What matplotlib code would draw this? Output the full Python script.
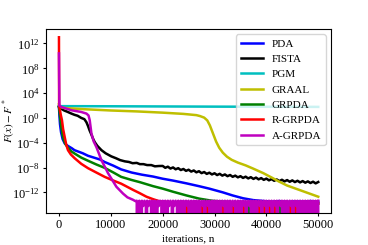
import numpy as np
import matplotlib.pyplot as plt
from matplotlib.ticker import NullLocator

plt.rcParams['font.family'] = 'serif'
plt.rcParams['font.serif'] = ['Liberation Serif', 'DejaVu Serif']
plt.rcParams['mathtext.fontset'] = 'stix'
plt.rcParams['path.simplify'] = False

# values as log10(F(x) - F*)
pda_it = [0, 80, 200, 400, 700, 1100, 1700, 2500, 3000, 4600, 5600, 7900, 8800,
          10500, 12000, 14000, 16000, 18150, 20000, 22000, 24600, 27000, 29000,
          31600, 33500, 35500, 37500, 39500, 41000, 42500, 44000, 45500, 47000,
          48500, 50000]
pda_exp = [1.8, 0.5, -1.0, -2.3, -3.4, -4.1, -4.5, -4.9, -5.2, -5.7, -6.1, -6.7, -7.1,
           -7.7, -8.3, -8.8, -9.15, -9.45, -9.8, -10.1, -10.55, -11.0, -11.4,
           -12.0, -12.5, -12.95, -13.25, -13.4, -13.5, -13.4, -13.55, -13.45, -13.5,
           -13.4, -13.5]

fista_it = [0, 400, 1000, 1600, 2400, 3000, 3600, 4300, 4900, 5300, 5600, 5900, 6260,
            6600, 6900, 7400, 8200, 9000, 10100, 11000, 11800, 12700, 13500, 14200,
            15000, 15600, 16300, 17000, 17800, 18500, 19300,
            20000, 20500, 21000, 21500, 22000, 22500, 23000, 23500, 24000, 24500,
            25000, 25500, 26000, 26500, 27000, 27500, 28000, 28500, 29000, 29500,
            30000, 30500, 31000, 31500, 32000, 32500, 33000, 33500, 34000, 34500,
            35000, 35500, 36000, 36500, 37000, 37500, 38000, 38500, 39000, 39500,
            40000, 40500, 41000, 41500, 42000, 42500, 43000, 43500, 44000, 44500,
            45000, 45500, 46000, 46500, 47000, 47500, 48000, 48500, 49000, 49500,
            50000]
fista_exp = [1.8, 1.5, 1.2, 1.0, 0.7, 0.5, 0.35, 0.0, -0.2, -0.7, -1.3, -2.0, -2.7,
             -3.4, -3.9, -4.5, -5.2, -5.7, -6.2, -6.5, -6.8, -7.0, -7.1, -7.3,
             -7.25, -7.45, -7.45, -7.6, -7.6, -7.8, -7.75,
             -7.74, -8.04, -7.86, -8.16, -7.98, -8.28, -8.10, -8.40, -8.23, -8.53,
             -8.35, -8.65, -8.47, -8.77, -8.59, -8.90, -8.72, -9.02, -8.83, -9.11,
             -8.92, -9.21, -9.01, -9.30, -9.11, -9.39, -9.20, -9.49, -9.30, -9.58,
             -9.39, -9.67, -9.47, -9.75, -9.55, -9.83, -9.62, -9.90, -9.70, -9.98,
             -9.78, -10.06, -9.86, -10.13, -9.92, -10.18, -9.97, -10.23, -10.02, -10.29,
             -10.07, -10.34, -10.13, -10.39, -10.18, -10.44, -10.23, -10.49, -10.28, -10.55,
             -10.33]

pgm_it = [0, 10000, 20000, 30000, 40000, 50000]
pgm_exp = [1.9, 1.88, 1.85, 1.82, 1.8, 1.78]

graal_it = [0, 100, 1000, 5000, 10000, 15000, 20000, 24000, 26500, 27200, 28000,
            28600, 29100, 29700, 30300, 30900, 31600, 32400, 33300, 34500, 36000,
            37400, 39400, 41000, 42300, 44000, 47000, 50000]
graal_exp = [2.2, 1.8, 1.6, 1.4, 1.2, 1.05, 0.85, 0.65, 0.45, 0.3, 0.05,
             -0.4, -1.2, -2.5, -3.8, -4.8, -5.6, -6.25, -6.75, -7.2, -7.65,
             -8.15, -8.9, -9.6, -10.2, -10.9, -11.8, -12.7]

grpda_it = [0, 100, 300, 460, 700, 960, 1300, 1740, 2400, 3030, 4300, 5600, 7200,
            8820, 10500, 12000, 14000, 15580, 18150, 20000, 22000, 24600, 27000, 29500]
grpda_exp = [1.8, 1.0, -0.5, -1.5, -2.8, -3.6, -4.3, -4.8, -5.4, -5.75, -6.4, -6.9, -7.5,
             -8.05, -8.8, -9.5, -10.0, -10.35, -11.0, -11.4, -11.9, -12.5, -13.0, -13.35]

rgrpda_it = [0, 30, 135, 350, 580, 800, 1100, 1400, 1740, 2300, 3030, 4300, 5600,
             7200, 8820, 10500, 12000, 14290, 15500, 16870, 18150, 19440]
rgrpda_exp = [13.0, 1.9, 1.5, 0.5, -0.37, -1.8, -3.05, -4.3, -5.2, -5.9, -6.5, -7.4, -8.1,
              -8.8, -9.5, -10.1, -10.6, -11.6, -12.1, -12.7, -13.1, -13.45]

agrpda_it = [0, 80, 500, 2400, 4300, 5300, 5700, 5930, 6260, 6700, 7220, 8190, 9460,
             11080, 12360, 13200, 14290, 14700]
agrpda_exp = [10.4, 2.0, 1.75, 1.24, 0.96, 0.7, 0.4, -0.37, -2.5, -3.8, -4.7, -6.8, -8.9,
              -11.1, -12.2, -12.8, -13.2, -13.4]

# machine precision floor: values jump between levels and exact zeros
FLOOR_HI, FLOOR_MID, FLOOR_LO = -13.35, -13.8, -14.2
floor_start, floor_step = 15000, 125
# A-GRPDA floor, one letter per 125 iterations (8 per 1000):
# h/m/l = level, 0 = exactly zero
agrpda_floor = "".join([
    "h0l0h0l0", "hmlmhml0", "hmlmhml0", "h0l0h0l0", "hmlmhml0",   # 15k-19k
    "h0l0h0l0", "hmlmhml0", "hmlmhml0", "h0l0h0l0", "h0lmhmlm",   # 20k-24k
    "h0l0h0l0", "h0l0h0l0", "h0lmhmlm", "h0lmhmlm", "h0l0h0l0",   # 25k-29k
    "h0l0h0l0", "h0lmhmlm", "h0l0h0l0", "h0lmhmlm", "h0l0h0l0",   # 30k-34k
    "h0lmhmlm", "h0lmhmlm", "h0l0h0l0", "h0lmhmlm", "h0lmhmlm",   # 35k-39k
    "h0lmhmlm", "h0lmhmlm", "h0lmhmlm", "h0l0h0l0", "h0lmhmlm",   # 40k-44k
    "h0lmhmlm", "h0l0h0l0", "h0l0h0l0", "h0l0h0l0", "h0l0h0l0",   # 45k-49k
    "h"])
# iterations where the other methods hit exactly zero
rgrpda_zeros = [24625, 27625, 28625, 31625, 33625, 35625, 38625, 39625, 40625,
                41625, 44625, 45625]
grpda_zeros = [36625, 42625]


def to_vals(exps):
    return [0.0 if e is None else 10.0 ** e for e in exps]


def with_zeros(its, exps, zeros, end=50000):
    its, exps = list(its), list(exps)
    for z in zeros:
        its += [z - 60, z, z + 60]
        exps += [FLOOR_MID, None, FLOOR_MID]
    its.append(end)
    exps.append(FLOOR_MID)
    return its, to_vals(exps)


level = {'h': FLOOR_HI, 'm': FLOOR_MID, 'l': FLOOR_LO, '0': None}
ag_it = agrpda_it + [floor_start + floor_step * i for i in range(len(agrpda_floor))]
ag_vals = to_vals(agrpda_exp + [level[c] for c in agrpda_floor])

rg_it, rg_vals = with_zeros(rgrpda_it, rgrpda_exp, rgrpda_zeros)
gr_it, gr_vals = with_zeros(grpda_it, grpda_exp, grpda_zeros)

fig = plt.figure(figsize=(3.68, 2.45), dpi=100)
ax = fig.add_axes([0.125, 0.13, 0.775, 0.752])

lw = 1.8
ax.plot(pda_it, to_vals(pda_exp), color='b', lw=lw, label='PDA')
ax.plot(fista_it, to_vals(fista_exp), color='k', lw=lw, label='FISTA')
ax.plot(pgm_it, to_vals(pgm_exp), color='c', lw=lw, label='PGM')
ax.plot(graal_it, to_vals(graal_exp), color='y', lw=lw, label='GRAAL')
ax.plot(gr_it, gr_vals, color='g', lw=lw, label='GRPDA')
ax.plot(rg_it, rg_vals, color='r', lw=lw, label='R-GRPDA')
ax.plot(ag_it, ag_vals, color='m', lw=lw, label='A-GRPDA')

ax.set_yscale('log')
ax.set_ylim(10 ** -15.35, 10 ** 14.35)
ax.set_yticks([1e12, 1e8, 1e4, 1e0, 1e-4, 1e-8, 1e-12])
ax.yaxis.set_minor_locator(NullLocator())
ax.set_xticks([0, 10000, 20000, 30000, 40000, 50000])
ax.tick_params(labelsize=9, length=2.5, pad=2)

ax.set_xlabel('iterations, n', fontsize=8, labelpad=2)
ax.set_ylabel(r'$F(x) - F^*$', fontsize=8)
ax.yaxis.set_label_coords(-0.10, 0.5)
ax.legend(loc='upper right', fontsize=8, labelspacing=0.5)

plt.savefig('out.png', dpi=100)
